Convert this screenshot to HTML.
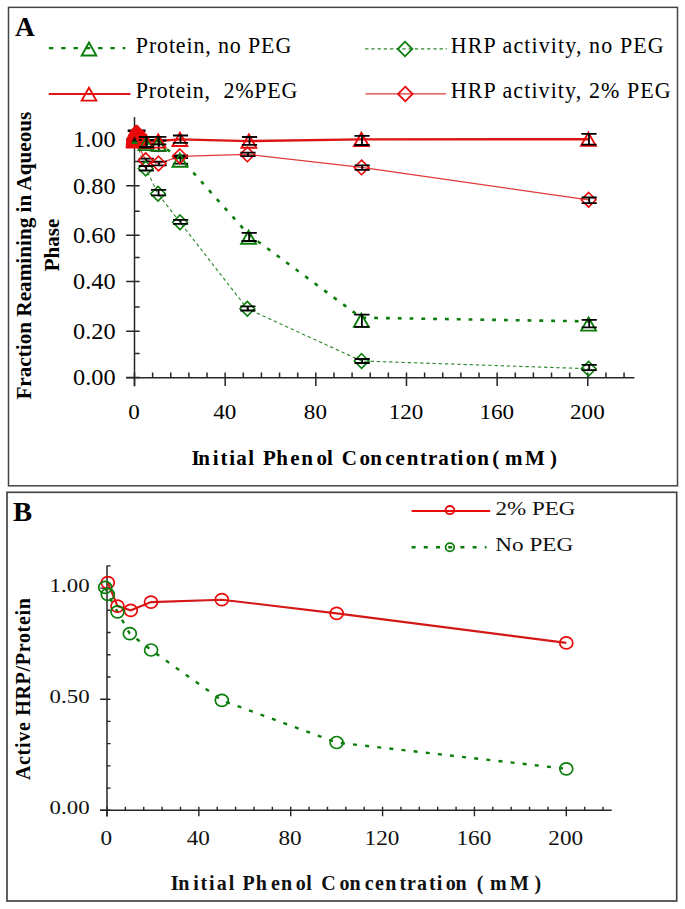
<!DOCTYPE html>
<html><head><meta charset="utf-8"><style>
html,body{margin:0;padding:0;background:#fff;}
svg{display:block;}
</style></head><body>
<svg width="685" height="909" viewBox="0 0 685 909">
<rect width="685" height="909" fill="#fff"/>
<rect x="8.5" y="7.35" width="669" height="478.45" fill="none" stroke="#454545" stroke-width="1.5"/>
<text x="15" y="35.5" style="font-family:'Liberation Serif',serif;font-weight:bold;font-size:27.5px" fill="#000">A</text>
<path d="M48.90,48.10 L125.40,48.10" fill="none" stroke="#0b7d0b" stroke-width="2.4" stroke-dasharray="4.4 7.9" />
<path d="M89.00,42.50 L96.30,55.50 L81.70,55.50 Z" fill="none" stroke="#0b7d0b" stroke-width="1.9" stroke-linejoin="miter"/>
<path d="M48.80,93.90 L130.50,93.90" fill="none" stroke="#e01414" stroke-width="2.0" />
<path d="M89.00,87.60 L96.30,100.60 L81.70,100.60 Z" fill="none" stroke="#e80a0a" stroke-width="1.9" stroke-linejoin="miter"/>
<path d="M365.10,48.80 L446.90,48.80" fill="none" stroke="#2f8a2f" stroke-width="1.3" stroke-dasharray="3.4 2.8" />
<path d="M405.00,41.70 L412.30,49.00 L405.00,56.30 L397.70,49.00 Z" fill="none" stroke="#0b7d0b" stroke-width="1.8"/>
<path d="M365.50,93.80 L446.10,93.80" fill="none" stroke="#e03a3a" stroke-width="1.3" />
<path d="M405.30,86.70 L412.60,94.00 L405.30,101.30 L398.00,94.00 Z" fill="none" stroke="#e80a0a" stroke-width="1.8"/>
<text x="0" y="0" transform="translate(135.8,53.0) scale(1,1.075)" style="font-family:'Liberation Serif',serif;font-size:22px;font-weight:normal" text-anchor="start" fill="#000" textLength="155.5" lengthAdjust="spacing" >Protein, no PEG</text>
<text x="0" y="0" transform="translate(135.8,98.2) scale(1,1.075)" style="font-family:'Liberation Serif',serif;font-size:22px;font-weight:normal" text-anchor="start" fill="#000" textLength="161.5" lengthAdjust="spacing" xml:space="preserve">Protein,  2%PEG</text>
<text x="0" y="0" transform="translate(450.7,53.0) scale(1,1.075)" style="font-family:'Liberation Serif',serif;font-size:22px;font-weight:normal" text-anchor="start" fill="#000" textLength="213" lengthAdjust="spacing" >HRP activity, no PEG</text>
<text x="0" y="0" transform="translate(450.7,98.0) scale(1,1.075)" style="font-family:'Liberation Serif',serif;font-size:22px;font-weight:normal" text-anchor="start" fill="#000" textLength="220" lengthAdjust="spacing" >HRP activity, 2% PEG</text>
<path d="M134.5,117 V386.3 M126.2,377.7 H634.3" stroke="#262626" stroke-width="1.5" fill="none"/>
<path d="M126.2,377.50 H139.6 M134.5,353.40 H139.6 M126.2,331.30 H139.6 M134.5,307.00 H139.6 M126.2,281.60 H139.6 M134.5,257.50 H139.6 M126.2,235.20 H139.6 M134.5,211.20 H139.6 M126.2,185.80 H139.6 M134.5,161.40 H139.6 M126.2,139.00 H139.6 M134.50,372.6 V386.1 M152.63,372.6 V377.7 M170.76,372.6 V377.7 M188.90,372.6 V377.7 M207.03,372.6 V377.7 M225.16,372.6 V386.1 M243.29,372.6 V377.7 M261.42,372.6 V377.7 M279.56,372.6 V377.7 M297.69,372.6 V377.7 M315.82,372.6 V386.1 M333.95,372.6 V377.7 M352.08,372.6 V377.7 M370.22,372.6 V377.7 M388.35,372.6 V377.7 M406.48,372.6 V386.1 M424.61,372.6 V377.7 M442.74,372.6 V377.7 M460.88,372.6 V377.7 M479.01,372.6 V377.7 M497.14,372.6 V386.1 M515.27,372.6 V377.7 M533.40,372.6 V377.7 M551.54,372.6 V377.7 M569.67,372.6 V377.7 M587.80,372.6 V386.1 M605.93,372.6 V377.7 M624.06,372.6 V377.7" stroke="#262626" stroke-width="1.5" fill="none"/>
<text x="115.6" y="385.35" style="font-family:'Liberation Serif',serif;font-size:23.2px;font-weight:normal" text-anchor="end" fill="#000" textLength="42.6" lengthAdjust="spacingAndGlyphs" >0.00</text>
<text x="115.6" y="339.15000000000003" style="font-family:'Liberation Serif',serif;font-size:23.2px;font-weight:normal" text-anchor="end" fill="#000" textLength="42.6" lengthAdjust="spacingAndGlyphs" >0.20</text>
<text x="115.6" y="289.45000000000005" style="font-family:'Liberation Serif',serif;font-size:23.2px;font-weight:normal" text-anchor="end" fill="#000" textLength="42.6" lengthAdjust="spacingAndGlyphs" >0.40</text>
<text x="115.6" y="243.04999999999998" style="font-family:'Liberation Serif',serif;font-size:23.2px;font-weight:normal" text-anchor="end" fill="#000" textLength="42.6" lengthAdjust="spacingAndGlyphs" >0.60</text>
<text x="115.6" y="193.65" style="font-family:'Liberation Serif',serif;font-size:23.2px;font-weight:normal" text-anchor="end" fill="#000" textLength="42.6" lengthAdjust="spacingAndGlyphs" >0.80</text>
<text x="115.6" y="146.85" style="font-family:'Liberation Serif',serif;font-size:23.2px;font-weight:normal" text-anchor="end" fill="#000" textLength="42.6" lengthAdjust="spacingAndGlyphs" >1.00</text>
<text x="134.1" y="419.2" style="font-family:'Liberation Serif',serif;font-size:21.8px;font-weight:normal" text-anchor="middle" fill="#000" textLength="11.55" lengthAdjust="spacingAndGlyphs" >0</text>
<text x="224.76000000000002" y="419.2" style="font-family:'Liberation Serif',serif;font-size:21.8px;font-weight:normal" text-anchor="middle" fill="#000" textLength="23.1" lengthAdjust="spacingAndGlyphs" >40</text>
<text x="315.4200000000001" y="419.2" style="font-family:'Liberation Serif',serif;font-size:21.8px;font-weight:normal" text-anchor="middle" fill="#000" textLength="23.1" lengthAdjust="spacingAndGlyphs" >80</text>
<text x="406.08000000000004" y="419.2" style="font-family:'Liberation Serif',serif;font-size:21.8px;font-weight:normal" text-anchor="middle" fill="#000" textLength="34.650000000000006" lengthAdjust="spacingAndGlyphs" >120</text>
<text x="496.74000000000007" y="419.2" style="font-family:'Liberation Serif',serif;font-size:21.8px;font-weight:normal" text-anchor="middle" fill="#000" textLength="34.650000000000006" lengthAdjust="spacingAndGlyphs" >160</text>
<text x="587.4" y="419.2" style="font-family:'Liberation Serif',serif;font-size:21.8px;font-weight:normal" text-anchor="middle" fill="#000" textLength="34.650000000000006" lengthAdjust="spacingAndGlyphs" >200</text>
<text transform="translate(31,399.6) rotate(-90)" style="font-family:'Liberation Serif',serif;font-size:21.3px;font-weight:bold" fill="#000" textLength="288" lengthAdjust="spacing">Fraction Reamining in Aqueous</text>
<text transform="translate(58.5,271.3) rotate(-90)" style="font-family:'Liberation Serif',serif;font-size:21px;font-weight:bold" fill="#000">Phase</text>
<text x="191.51 198.24 212.76 220.43 229.16 236.32 248.16 253.99 262.90 276.21 290.25 301.14 316.45 326.91 332.74 341.75 359.55 370.34 385.24 395.50 406.74 420.03 428.03 438.32 449.88 457.41 465.80 477.29 492.33 499.32 504.90 525.06 550.08" y="464.8" style="font-family:'Liberation Serif',serif;font-size:21px;font-weight:bold" fill="#000" xml:space="preserve">Initial Phenol Concentration( mM)</text>
<path d="M134.50,137.70 L145.70,168.50 L158.00,193.70 L180.00,222.30 L247.30,308.70 L361.60,361.00 L588.60,368.70" fill="none" stroke="#2f8a2f" stroke-width="1.15" stroke-dasharray="3.4 2.8" />
<path d="M134.50,137.70 L146.00,143.50 L158.20,144.00 L179.90,157.60 L248.60,234.60 L361.30,317.70 L588.60,321.40" fill="none" stroke="#0b7d0b" stroke-width="2.6" stroke-dasharray="3.8 8.0" />
<path d="M134.50,137.70 L145.70,160.20 L158.50,163.50 L179.80,156.30 L247.40,154.40 L361.60,167.40 L588.60,199.80" fill="none" stroke="#e03a3a" stroke-width="1.3" />
<path d="M134.50,137.70 L145.90,141.00 L158.20,141.00 L179.90,139.40 L248.90,141.10 L361.40,139.40 L588.40,139.20" fill="none" stroke="#dc1414" stroke-width="2.4" />
<path d="M127.70,130.80 H145.50 M127.70,130.80 H145.50 M136.60,130.80 V130.80" stroke="#000" stroke-width="2.6" fill="none"/>
<path d="M135.6,124.8 L137.4,124.8 L141.5,129.0 L144.6,131.4 L146.8,140.0 L146.8,148.6 L125.6,148.6 L126.2,139.5 L128.6,134.0 L131.0,129.8 Z" fill="#e80a0a"/>
<path d="M131.4,142.6 L134.6,136.4 L137.6,142.6 Z" fill="#111"/>
<path d="M131.6,144.0 L137.6,144.0 L136.8,141.6 L132.4,141.6 Z" fill="#0b7d0b"/>
<path d="M139.00,140.00 H154.20 M139.00,148.00 H154.20 M146.60,140.00 V148.00" stroke="#000" stroke-width="1.8" fill="none"/>
<path d="M151.20,140.50 H166.40 M151.20,150.80 H166.40 M158.80,140.50 V150.80" stroke="#000" stroke-width="1.8" fill="none"/>
<path d="M172.90,156.70 H188.10 M172.90,163.70 H188.10 M180.50,156.70 V163.70" stroke="#000" stroke-width="1.8" fill="none"/>
<path d="M138.70,158.70 H153.90 M138.70,161.70 H153.90 M146.30,158.70 V161.70" stroke="#000" stroke-width="1.8" fill="none"/>
<path d="M151.50,161.70 H166.70 M151.50,165.30 H166.70 M159.10,161.70 V165.30" stroke="#000" stroke-width="1.8" fill="none"/>
<path d="M172.80,155.30 H188.00 M172.80,158.10 H188.00 M180.40,155.30 V158.10" stroke="#000" stroke-width="1.8" fill="none"/>
<path d="M146.00,136.90 L153.40,150.10 L138.60,150.10 Z" fill="none" stroke="#0b7d0b" stroke-width="1.9" stroke-linejoin="miter"/>
<path d="M158.20,137.40 L165.60,150.60 L150.80,150.60 Z" fill="none" stroke="#0b7d0b" stroke-width="1.9" stroke-linejoin="miter"/>
<path d="M179.90,153.60 L187.30,166.80 L172.50,166.80 Z" fill="none" stroke="#0b7d0b" stroke-width="1.9" stroke-linejoin="miter"/>
<path d="M248.60,230.60 L256.00,243.80 L241.20,243.80 Z" fill="none" stroke="#0b7d0b" stroke-width="1.9" stroke-linejoin="miter"/>
<path d="M361.30,313.70 L368.70,326.90 L353.90,326.90 Z" fill="none" stroke="#0b7d0b" stroke-width="1.9" stroke-linejoin="miter"/>
<path d="M588.60,317.40 L596.00,330.60 L581.20,330.60 Z" fill="none" stroke="#0b7d0b" stroke-width="1.9" stroke-linejoin="miter"/>
<path d="M145.70,161.20 L153.00,168.50 L145.70,175.80 L138.40,168.50 Z" fill="none" stroke="#0b7d0b" stroke-width="1.6"/>
<path d="M158.00,186.40 L165.30,193.70 L158.00,201.00 L150.70,193.70 Z" fill="none" stroke="#0b7d0b" stroke-width="1.6"/>
<path d="M180.00,215.00 L187.30,222.30 L180.00,229.60 L172.70,222.30 Z" fill="none" stroke="#0b7d0b" stroke-width="1.6"/>
<path d="M247.30,301.40 L254.60,308.70 L247.30,316.00 L240.00,308.70 Z" fill="none" stroke="#0b7d0b" stroke-width="1.6"/>
<path d="M361.60,353.70 L368.90,361.00 L361.60,368.30 L354.30,361.00 Z" fill="none" stroke="#0b7d0b" stroke-width="1.6"/>
<path d="M588.60,361.40 L595.90,368.70 L588.60,376.00 L581.30,368.70 Z" fill="none" stroke="#0b7d0b" stroke-width="1.6"/>
<path d="M145.90,134.40 L153.30,147.60 L138.50,147.60 Z" fill="none" stroke="#e80a0a" stroke-width="1.9" stroke-linejoin="miter"/>
<path d="M158.20,134.40 L165.60,147.60 L150.80,147.60 Z" fill="none" stroke="#e80a0a" stroke-width="1.9" stroke-linejoin="miter"/>
<path d="M179.90,132.80 L187.30,146.00 L172.50,146.00 Z" fill="none" stroke="#e80a0a" stroke-width="1.9" stroke-linejoin="miter"/>
<path d="M248.90,134.50 L256.30,147.70 L241.50,147.70 Z" fill="none" stroke="#e80a0a" stroke-width="1.9" stroke-linejoin="miter"/>
<path d="M361.40,132.80 L368.80,146.00 L354.00,146.00 Z" fill="none" stroke="#e80a0a" stroke-width="1.9" stroke-linejoin="miter"/>
<path d="M588.40,132.60 L595.80,145.80 L581.00,145.80 Z" fill="none" stroke="#e80a0a" stroke-width="1.9" stroke-linejoin="miter"/>
<path d="M145.70,152.90 L153.00,160.20 L145.70,167.50 L138.40,160.20 Z" fill="none" stroke="#e80a0a" stroke-width="1.6"/>
<path d="M158.50,156.20 L165.80,163.50 L158.50,170.80 L151.20,163.50 Z" fill="none" stroke="#e80a0a" stroke-width="1.6"/>
<path d="M179.80,149.00 L187.10,156.30 L179.80,163.60 L172.50,156.30 Z" fill="none" stroke="#e80a0a" stroke-width="1.6"/>
<path d="M247.40,147.10 L254.70,154.40 L247.40,161.70 L240.10,154.40 Z" fill="none" stroke="#e80a0a" stroke-width="1.6"/>
<path d="M361.60,160.10 L368.90,167.40 L361.60,174.70 L354.30,167.40 Z" fill="none" stroke="#e80a0a" stroke-width="1.6"/>
<path d="M588.60,192.50 L595.90,199.80 L588.60,207.10 L581.30,199.80 Z" fill="none" stroke="#e80a0a" stroke-width="1.6"/>
<path d="M241.60,232.80 H256.80 M241.60,241.00 H256.80 M249.20,232.80 V241.00" stroke="#000" stroke-width="1.8" fill="none"/>
<path d="M354.30,314.60 H369.50 M354.30,326.90 H369.50 M361.90,314.60 V326.90" stroke="#000" stroke-width="1.8" fill="none"/>
<path d="M581.60,319.80 H596.80 M581.60,327.30 H596.80 M589.20,319.80 V327.30" stroke="#000" stroke-width="1.8" fill="none"/>
<path d="M138.70,166.00 H153.90 M138.70,170.50 H153.90 M146.30,166.00 V170.50" stroke="#000" stroke-width="1.8" fill="none"/>
<path d="M151.00,189.90 H166.20 M151.00,195.30 H166.20 M158.60,189.90 V195.30" stroke="#000" stroke-width="1.8" fill="none"/>
<path d="M173.00,219.80 H188.20 M173.00,223.80 H188.20 M180.60,219.80 V223.80" stroke="#000" stroke-width="1.8" fill="none"/>
<path d="M240.30,306.40 H255.50 M240.30,310.50 H255.50 M247.90,306.40 V310.50" stroke="#000" stroke-width="1.8" fill="none"/>
<path d="M354.60,359.00 H369.80 M354.60,363.00 H369.80 M362.20,359.00 V363.00" stroke="#000" stroke-width="1.8" fill="none"/>
<path d="M581.60,364.80 H596.80 M581.60,370.20 H596.80 M589.20,364.80 V370.20" stroke="#000" stroke-width="1.8" fill="none"/>
<path d="M138.90,137.00 H154.10 M138.90,147.00 H154.10 M146.50,137.00 V147.00" stroke="#000" stroke-width="1.8" fill="none"/>
<path d="M151.20,136.80 H166.40 M151.20,144.30 H166.40 M158.80,136.80 V144.30" stroke="#000" stroke-width="1.8" fill="none"/>
<path d="M172.90,135.50 H188.10 M172.90,142.90 H188.10 M180.50,135.50 V142.90" stroke="#000" stroke-width="1.8" fill="none"/>
<path d="M241.90,137.00 H257.10 M241.90,144.90 H257.10 M249.50,137.00 V144.90" stroke="#000" stroke-width="1.8" fill="none"/>
<path d="M354.40,135.80 H369.60 M354.40,145.00 H369.60 M362.00,135.80 V145.00" stroke="#000" stroke-width="1.8" fill="none"/>
<path d="M581.40,133.90 H596.60 M581.40,144.60 H596.60 M589.00,133.90 V144.60" stroke="#000" stroke-width="1.8" fill="none"/>
<path d="M240.40,152.60 H255.60 M240.40,156.20 H255.60 M248.00,152.60 V156.20" stroke="#000" stroke-width="1.8" fill="none"/>
<path d="M354.60,165.30 H369.80 M354.60,169.80 H369.80 M362.20,165.30 V169.80" stroke="#000" stroke-width="1.8" fill="none"/>
<path d="M581.60,197.50 H596.80 M581.60,203.10 H596.80 M589.20,197.50 V203.10" stroke="#000" stroke-width="1.8" fill="none"/>
<rect x="7" y="492.3" width="669.7" height="408.7" fill="none" stroke="#454545" stroke-width="1.7"/>
<text x="0" y="0" transform="translate(13,521) scale(1.05,1)" style="font-family:'Liberation Serif',serif;font-weight:bold;font-size:27.3px" fill="#000">B</text>
<path d="M411.60,511.00 L490.20,511.00" fill="none" stroke="#e80a0a" stroke-width="2.2" />
<ellipse cx="449.9" cy="510.1" rx="4.3" ry="4.1" fill="none" stroke="#e80a0a" stroke-width="1.8"/>
<path d="M411.60,547.30 L486.50,547.30" fill="none" stroke="#0b7d0b" stroke-width="2.4" stroke-dasharray="4 8.2" />
<ellipse cx="449.9" cy="547.3" rx="4.3" ry="4.1" fill="none" stroke="#0b7d0b" stroke-width="1.8"/>
<text x="495.5" y="515.0" style="font-family:'Liberation Serif',serif;font-size:19px;font-weight:normal" text-anchor="start" fill="#111" textLength="80" lengthAdjust="spacingAndGlyphs" >2% PEG</text>
<text x="495.3" y="551.4" style="font-family:'Liberation Serif',serif;font-size:19px;font-weight:normal" text-anchor="start" fill="#111" textLength="78" lengthAdjust="spacingAndGlyphs" >No PEG</text>
<path d="M107,565.8 V816.5 M100.1,810.3 H611.7" stroke="#262626" stroke-width="1.5" fill="none"/>
<path d="M100.2,810.30 H110.4 M107,788.08 H110.6 M107,765.86 H110.6 M107,743.64 H110.6 M107,721.42 H110.6 M100.2,699.20 H110.4 M107,676.98 H110.6 M107,654.76 H110.6 M107,632.54 H110.6 M107,610.32 H110.6 M100.2,588.10 H110.4 M107,565.88 H110.6 M107.00,806.8 V816.3 M125.37,806.8 V810.3 M143.74,806.8 V810.3 M162.12,806.8 V810.3 M180.49,806.8 V810.3 M198.86,806.8 V816.3 M217.23,806.8 V810.3 M235.60,806.8 V810.3 M253.98,806.8 V810.3 M272.35,806.8 V810.3 M290.72,806.8 V816.3 M309.09,806.8 V810.3 M327.46,806.8 V810.3 M345.84,806.8 V810.3 M364.21,806.8 V810.3 M382.58,806.8 V816.3 M400.95,806.8 V810.3 M419.32,806.8 V810.3 M437.70,806.8 V810.3 M456.07,806.8 V810.3 M474.44,806.8 V816.3 M492.81,806.8 V810.3 M511.18,806.8 V810.3 M529.56,806.8 V810.3 M547.93,806.8 V810.3 M566.30,806.8 V816.3 M584.67,806.8 V810.3 M603.04,806.8 V810.3" stroke="#262626" stroke-width="1.4" fill="none"/>
<text x="89.6" y="813.9" style="font-family:'Liberation Serif',serif;font-size:19.5px;font-weight:normal" text-anchor="end" fill="#111" textLength="40.0" lengthAdjust="spacingAndGlyphs" >0.00</text>
<text x="89.6" y="702.8" style="font-family:'Liberation Serif',serif;font-size:19.5px;font-weight:normal" text-anchor="end" fill="#111" textLength="40.0" lengthAdjust="spacingAndGlyphs" >0.50</text>
<text x="89.6" y="591.6999999999999" style="font-family:'Liberation Serif',serif;font-size:19.5px;font-weight:normal" text-anchor="end" fill="#111" textLength="40.0" lengthAdjust="spacingAndGlyphs" >1.00</text>
<text x="106.4" y="844.5" style="font-family:'Liberation Serif',serif;font-size:20px;font-weight:normal" text-anchor="middle" fill="#111" textLength="11.6" lengthAdjust="spacingAndGlyphs" >0</text>
<text x="198.26000000000002" y="844.5" style="font-family:'Liberation Serif',serif;font-size:20px;font-weight:normal" text-anchor="middle" fill="#111" textLength="23.2" lengthAdjust="spacingAndGlyphs" >40</text>
<text x="290.12" y="844.5" style="font-family:'Liberation Serif',serif;font-size:20px;font-weight:normal" text-anchor="middle" fill="#111" textLength="23.2" lengthAdjust="spacingAndGlyphs" >80</text>
<text x="381.97999999999996" y="844.5" style="font-family:'Liberation Serif',serif;font-size:20px;font-weight:normal" text-anchor="middle" fill="#111" textLength="34.8" lengthAdjust="spacingAndGlyphs" >120</text>
<text x="473.84" y="844.5" style="font-family:'Liberation Serif',serif;font-size:20px;font-weight:normal" text-anchor="middle" fill="#111" textLength="34.8" lengthAdjust="spacingAndGlyphs" >160</text>
<text x="565.6999999999999" y="844.5" style="font-family:'Liberation Serif',serif;font-size:20px;font-weight:normal" text-anchor="middle" fill="#111" textLength="34.8" lengthAdjust="spacingAndGlyphs" >200</text>
<text transform="translate(29.8,780.1) rotate(-90)" style="font-family:'Liberation Serif',serif;font-size:20px;font-weight:bold" fill="#000" textLength="182" lengthAdjust="spacing">Active HRP/Protein</text>
<text x="170.66 178.37 193.35 200.60 209.05 216.78 228.75 234.30 242.60 255.84 270.93 281.12 295.65 306.30 311.85 321.35 339.50 349.62 364.77 374.88 385.17 399.55 406.91 417.03 428.95 436.65 445.70 455.57 466.69 476.80 483.46 489.97 509.98 534.59" y="889.8" style="font-family:'Liberation Serif',serif;font-size:20px;font-weight:bold" fill="#111" xml:space="preserve">Initial Phenol Concentration ( mM)</text>
<path d="M107.80,582.70 L117.50,606.20 L130.80,610.30 L151.00,602.10 L221.82,599.70 L336.65,613.40 L566.30,642.90" fill="none" stroke="#d41818" stroke-width="2.1" />
<path d="M105.20,587.30 L107.80,594.40 L117.50,611.80 L129.80,633.70 L151.10,650.00 L221.82,700.30 L336.65,742.50 L566.30,768.80" fill="none" stroke="#0b7d0b" stroke-width="2.4" stroke-dasharray="4 8.2" />
<ellipse cx="107.80" cy="582.70" rx="6.5" ry="6.0" fill="none" stroke="#e80a0a" stroke-width="1.7"/>
<ellipse cx="117.50" cy="606.20" rx="6.5" ry="6.0" fill="none" stroke="#e80a0a" stroke-width="1.7"/>
<ellipse cx="130.80" cy="610.30" rx="6.5" ry="6.0" fill="none" stroke="#e80a0a" stroke-width="1.7"/>
<ellipse cx="151.00" cy="602.10" rx="6.5" ry="6.0" fill="none" stroke="#e80a0a" stroke-width="1.7"/>
<ellipse cx="221.82" cy="599.70" rx="6.5" ry="6.0" fill="none" stroke="#e80a0a" stroke-width="1.7"/>
<ellipse cx="336.65" cy="613.40" rx="6.5" ry="6.0" fill="none" stroke="#e80a0a" stroke-width="1.7"/>
<ellipse cx="566.30" cy="642.90" rx="6.5" ry="6.0" fill="none" stroke="#e80a0a" stroke-width="1.7"/>
<ellipse cx="105.20" cy="587.30" rx="6.5" ry="6.0" fill="none" stroke="#0b7d0b" stroke-width="1.7"/>
<ellipse cx="107.80" cy="594.40" rx="6.5" ry="6.0" fill="none" stroke="#0b7d0b" stroke-width="1.7"/>
<ellipse cx="117.50" cy="611.80" rx="6.5" ry="6.0" fill="none" stroke="#0b7d0b" stroke-width="1.7"/>
<ellipse cx="129.80" cy="633.70" rx="6.5" ry="6.0" fill="none" stroke="#0b7d0b" stroke-width="1.7"/>
<ellipse cx="151.10" cy="650.00" rx="6.5" ry="6.0" fill="none" stroke="#0b7d0b" stroke-width="1.7"/>
<ellipse cx="221.82" cy="700.30" rx="6.5" ry="6.0" fill="none" stroke="#0b7d0b" stroke-width="1.7"/>
<ellipse cx="336.65" cy="742.50" rx="6.5" ry="6.0" fill="none" stroke="#0b7d0b" stroke-width="1.7"/>
<ellipse cx="566.30" cy="768.80" rx="6.5" ry="6.0" fill="none" stroke="#0b7d0b" stroke-width="1.7"/>
</svg>
</body></html>
